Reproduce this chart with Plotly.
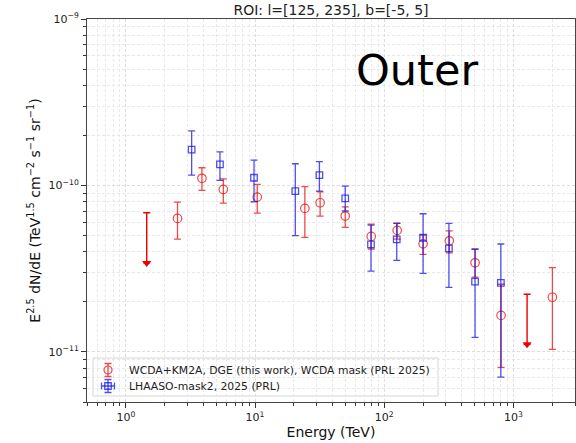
import plotly.graph_objects as go

# WCDA+KM2A diffuse gamma-ray emission, outer ROI (flux points, E^2.5 dN/dE)
wk_energy = [2.51, 3.88, 5.68, 10.4, 24.3, 31.9, 49.9, 79.3, 126, 200, 319, 505, 803, 2005]
wk_flux = [6.34e-11, 1.104e-10, 9.46e-11, 8.51e-11, 7.28e-11, 7.87e-11, 6.55e-11,
           4.94e-11, 5.37e-11, 4.46e-11, 4.65e-11, 3.43e-11, 1.657e-11, 2.13e-11]
wk_upper = [7.94e-11, 1.277e-10, 1.096e-10, 1.016e-10, 9.83e-11, 9.16e-11, 7.44e-11,
            5.86e-11, 5.94e-11, 5.03e-11, 5.34e-11, 4.13e-11, 2.55e-11, 3.21e-11]
wk_lower = [4.76e-11, 9.33e-11, 7.83e-11, 6.82e-11, 4.87e-11, 6.55e-11, 5.60e-11,
            4.15e-11, 4.76e-11, 3.85e-11, 3.94e-11, 2.81e-11, 8.07e-12, 1.035e-11]

# WCDA+KM2A upper limits
ul_energy = [1.45, 1277]
ul_flux = [6.85e-11, 2.22e-11]

# LHAASO-mask2 (2025, PRL)
lh_energy = [3.23, 5.35, 9.82, 20.5, 31.5, 49.9, 79.0, 125, 200, 317, 505, 800]
lh_flux = [1.64e-10, 1.34e-10, 1.112e-10, 9.24e-11, 1.154e-10, 8.37e-11,
           4.43e-11, 4.74e-11, 4.85e-11, 4.19e-11, 2.64e-11, 2.60e-11]
lh_upper = [2.13e-10, 1.59e-10, 1.42e-10, 1.35e-10, 1.39e-10, 9.92e-11,
            5.78e-11, 5.92e-11, 6.76e-11, 5.92e-11, 4.15e-11, 4.45e-11]
lh_lower = [1.155e-10, 1.074e-10, 7.98e-11, 4.99e-11, 9.24e-11, 7.02e-11,
            3.06e-11, 3.55e-11, 2.96e-11, 2.44e-11, 1.222e-11, 7.06e-12]

series_names = ["WCDA+KM2A, DGE (this work), WCDA mask (PRL 2025)",
                "LHAASO-mask2, 2025 (PRL)"]

x_tick_vals = [1, 10, 100, 1000]
x_tick_text = ["10<sup>0</sup>", "10<sup>1</sup>", "10<sup>2</sup>", "10<sup>3</sup>"]
y_tick_vals = [1e-11, 1e-10, 1e-9]
y_tick_text = ["10<sup>\u221211</sup>", "10<sup>\u221210</sup>", "10<sup>\u22129</sup>"]

FONT = "DejaVu Sans"
RED = "rgba(230,30,30,0.8)"
BLUE = "rgba(20,20,235,0.75)"
UL_RED = "rgb(235,0,0)"

# plot-area geometry in pixels (used for placing the legend box and label)
W, H = 576, 443
ML, MR, MT, MB = 87, 1, 19, 41
PW, PH = W - ML - MR, H - MT - MB


def px_x(px):
    return (px - ML) / PW


def px_y(py):
    return 1 - (py - MT) / PH


fig = go.Figure()

fig.add_trace(go.Scatter(
    x=wk_energy, y=wk_flux, mode="markers", name=series_names[0], showlegend=False,
    marker=dict(symbol="circle-open", size=8.5, color=RED, line=dict(width=1.2, color=RED)),
    error_y=dict(type="data", symmetric=False,
                 array=[u - f for u, f in zip(wk_upper, wk_flux)],
                 arrayminus=[f - l for f, l in zip(wk_flux, wk_lower)],
                 color=RED, thickness=1.3, width=3.5),
))

# upper limits: bar from the limit down to half of it, ending in an arrowhead
fig.add_trace(go.Scatter(
    x=ul_energy, y=ul_flux, mode="markers", showlegend=False,
    marker=dict(size=1, color="rgba(0,0,0,0)"),
    error_y=dict(type="data", symmetric=False,
                 array=[0 for _ in ul_flux],
                 arrayminus=[0.5 * f for f in ul_flux],
                 color=UL_RED, thickness=1.4, width=3.5),
))
fig.add_trace(go.Scatter(
    x=ul_energy, y=[0.5 * f for f in ul_flux], mode="markers", showlegend=False,
    marker=dict(symbol="triangle-down", size=8, color=UL_RED, line=dict(width=0)),
))

fig.add_trace(go.Scatter(
    x=lh_energy, y=lh_flux, mode="markers", name=series_names[1], showlegend=False,
    marker=dict(symbol="square-open", size=6.5, color=BLUE, line=dict(width=1.3, color=BLUE)),
    error_y=dict(type="data", symmetric=False,
                 array=[u - f for u, f in zip(lh_upper, lh_flux)],
                 arrayminus=[f - l for f, l in zip(lh_flux, lh_lower)],
                 color=BLUE, thickness=1.3, width=3.5),
))

# legend: framed box with errorbar-style handles drawn on a unit overlay axis
leg_left, leg_right, leg_top, leg_bottom = 93, 438, 358, 396
row_y = [370, 386]
handle_x = 108
text_x = 127

fig.add_shape(type="rect", xref="paper", yref="paper",
              x0=px_x(leg_left), x1=px_x(leg_right), y0=px_y(leg_bottom), y1=px_y(leg_top),
              fillcolor="rgba(255,255,255,0.85)", line=dict(color="#d6d6d6", width=1),
              layer="between")

fig.add_trace(go.Scatter(
    x=[px_x(handle_x)], y=[px_y(row_y[0])], xaxis="x2", yaxis="y2", mode="markers",
    showlegend=False, hoverinfo="skip",
    marker=dict(symbol="circle-open", size=8, color=RED, line=dict(width=1.2, color=RED)),
    error_y=dict(type="constant", value=6.5 / PH, color=RED, thickness=1.3, width=3.5),
))
fig.add_trace(go.Scatter(
    x=[px_x(handle_x)], y=[px_y(row_y[1])], xaxis="x2", yaxis="y2", mode="markers",
    showlegend=False, hoverinfo="skip",
    marker=dict(symbol="square-open", size=6.5, color=BLUE, line=dict(width=1.3, color=BLUE)),
    error_y=dict(type="constant", value=6.5 / PH, color=BLUE, thickness=1.3, width=3.5),
    error_x=dict(type="constant", value=6.5 / PW, color=BLUE, thickness=1.3, width=3.5),
))
for name, ry in zip(series_names, row_y):
    fig.add_annotation(text=name, xref="paper", yref="paper", x=px_x(text_x), y=px_y(ry),
                       xanchor="left", yanchor="middle", showarrow=False,
                       font=dict(family=FONT, size=10.8, color="#222"))

x_minor = [m * 10 ** k for k in range(-1, 4) for m in range(2, 10)]
y_minor = [m * 10.0 ** k for k in range(-12, -9) for m in range(2, 10)]

grid_major = "#dedede"
grid_minor = "#e9e9e9"
dash = "3px,2px"

fig.update_layout(
    width=W, height=H,
    margin=dict(l=ML, r=MR, t=MT, b=MB),
    paper_bgcolor="white", plot_bgcolor="white",
    font=dict(family=FONT, size=11, color="#222"),
    showlegend=False,
    title=dict(text="ROI: l=[125, 235], b=[-5, 5]", x=(ML + W - MR) / 2 / W, xanchor="center",
               y=1 - 10 / H, yanchor="middle", font=dict(family=FONT, size=14, color="#222")),
    xaxis=dict(
        type="log", range=[-0.30103, 3.47712],
        tickmode="array", tickvals=x_tick_vals, ticktext=x_tick_text,
        ticks="outside", ticklen=5, tickwidth=1, tickcolor="#333",
        tickfont=dict(family=FONT, size=11, color="#222"),
        showline=True, linecolor="#444", linewidth=1, mirror=True,
        showgrid=True, gridcolor=grid_major, griddash=dash, gridwidth=1,
        minor=dict(tickmode="array", tickvals=x_minor, ticks="outside", ticklen=3,
                   tickcolor="#333", showgrid=True, gridcolor=grid_minor, griddash=dash),
        zeroline=False,
        title=dict(text="Energy (TeV)", font=dict(family=FONT, size=14, color="#111"), standoff=2),
    ),
    yaxis=dict(
        type="log", range=[-11.30103, -9],
        tickmode="array", tickvals=y_tick_vals, ticktext=y_tick_text,
        ticks="outside", ticklen=5, tickwidth=1, tickcolor="#333",
        tickfont=dict(family=FONT, size=11, color="#222"),
        showline=True, linecolor="#444", linewidth=1, mirror=True,
        showgrid=True, gridcolor=grid_major, griddash=dash, gridwidth=1,
        minor=dict(tickmode="array", tickvals=y_minor, ticks="outside", ticklen=3,
                   tickcolor="#333", showgrid=True, gridcolor=grid_minor, griddash=dash),
        zeroline=False,
        title=dict(text="E<sup>2.5</sup> dN/dE (TeV<sup>1.5</sup> cm<sup>\u22122</sup> "
                        "s<sup>\u22121</sup> sr<sup>\u22121</sup>)",
                   font=dict(family=FONT, size=14, color="#111"), standoff=4),
    ),
    xaxis2=dict(overlaying="x", range=[0, 1], visible=False, fixedrange=True),
    yaxis2=dict(overlaying="y", range=[0, 1], visible=False, fixedrange=True),
)

fig.add_annotation(
    text="Outer", xref="paper", yref="paper",
    x=px_x(416.7), y=px_y(70),
    xanchor="center", yanchor="middle", showarrow=False,
    font=dict(family=FONT, size=43, color="black"),
)

fig.write_html("out.html")
